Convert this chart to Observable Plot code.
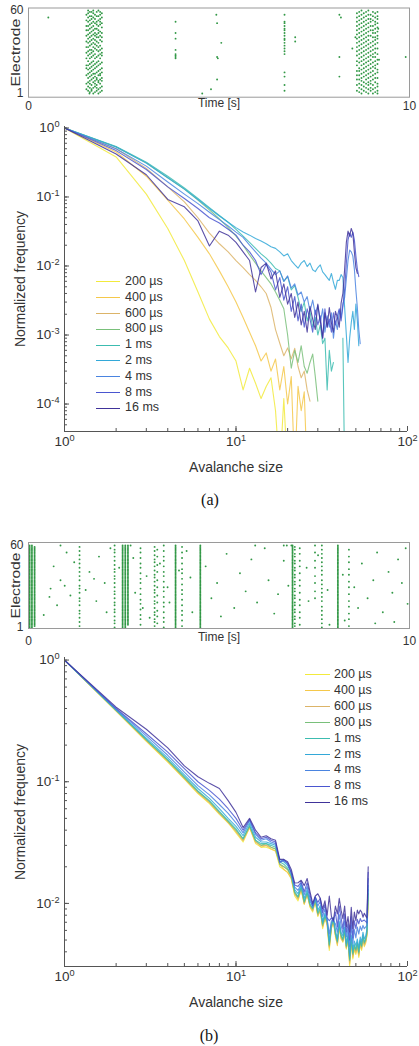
<!DOCTYPE html>
<html><head><meta charset="utf-8">
<script src="https://cdn.jsdelivr.net/npm/d3@7"></script>
<script src="https://cdn.jsdelivr.net/npm/@observablehq/plot@0.6"></script>
<style>
html,body{margin:0;padding:0;background:#fff;}
#root{position:relative;width:419px;height:1046px;overflow:hidden;background:#fff;font-family:"Liberation Sans",Arial,sans-serif;color:#333;}
.panel{position:absolute;left:0;}
.legtxt{position:absolute;font-size:12.5px;line-height:13px;white-space:nowrap;color:#333;}
.legln{position:absolute;height:0;border-top:1.3px solid;}
.cap{position:absolute;font-family:"Liberation Serif","Times New Roman",serif;font-size:16px;color:#111;transform:translate(-50%,-50%);}
</style></head><body><div id="root"></div>
<script>
// ---------- series labels & colours ----------
const seriesLabels = ["200 µs","400 µs","600 µs","800 µs","1 ms","2 ms","4 ms","8 ms","16 ms"];
const seriesColors = ["#f2ea3c","#f5c84a","#dcb468","#79c07a","#3cbcb0","#33a8d8","#4a84e0","#4a56d0","#40339a"];

// ---------- panel (a): normalized frequency vs avalanche size (size = index+1) ----------
const a200 = [1,0.38,0.11,0.035,0.012,0.0042,0.0017,0.00095,0.00065,0.00042,0.00016,0.00033,0.0002,0.00012,0.00018,0.00024,0.00008,0.00001,0.00012,0.00001];
const a400 = [1,0.45,0.2,0.09,0.048,0.026,0.015,0.0085,0.005,0.003,0.0018,0.0011,0.0007,0.00042,0.00055,0.0003,0.00045,0.00016,0.00035,0.0001,0.00025,0.00001,0.00018,0.00008,0.00015,0.00001];
const a600 = [1,0.5,0.26,0.14,0.085,0.05,0.03,0.021,0.016,0.012,0.0095,0.0075,0.0062,0.005,0.004,0.0025,0.0012,0.00076,0.0005,0.00065,0.00045,0.00064,0.00035,0.00024,0.0003,0.00016,0.00011];
const a800 = [1,0.53,0.31,0.19,0.13,0.09,0.065,0.048,0.036,0.027,0.02,0.0145,0.011,0.0085,0.0068,0.0055,0.0042,0.0032,0.0024,0.001,0.00033,0.0006,0.0004,0.0007,0.00035,0.00028,0.0004,0.00053,0.00025,0.00011];
const a1ms = [1,0.54,0.32,0.2,0.135,0.095,0.07,0.054,0.043,0.034,0.027,0.022,0.018,0.015,0.013,0.011,0.0092,0.0085,0.006,0.007,0.0045,0.0052,0.0035,0.0022,0.003,0.0016,0.0022,0.0013,0.0018,0.001,0.0014,0.00075,0.0009,0.00016,0.0006,0.0003,0.0004,null,null,null,null,0.0009,0.00001];
const a2ms = [1,0.53,0.31,0.19,0.13,0.092,0.068,0.053,0.043,0.036,0.031,0.028,0.025,0.023,0.021,0.019,0.018,0.016,0.014,0.015,0.012,0.0105,0.0093,0.011,0.012,0.0098,0.011,0.0088,0.0083,0.0095,0.0104,0.0082,0.0075,0.0068,0.0062,0.0078,0.0058,0.0046,0.0062,0.0062,0.0075,0.0068,0.0025,0.001,0.0004,0.0009,0.0015,0.0022,0.0012,0.0028,0.0016,0.0007];
const a4ms = [1,0.5,0.28,0.165,0.11,0.08,0.06,0.047,0.038,0.031,0.026,0.02,0.016,0.013,0.011,0.009,0.0075,0.0085,0.006,0.0072,0.0048,0.0055,0.0038,0.0042,0.003,0.0036,0.0022,0.0032,0.002,0.0027,0.0015,0.0024,0.0011,0.0019,0.0013,0.0021,0.0009,0.0016,0.0012,0.0023,0.0018,0.0028,0.0035,0.0065,0.012,0.017,0.016,0.014,0.009,0.0045,0.0025,0.0012,0.00075];
const a8ms = [1,0.47,0.25,0.14,0.095,0.068,0.05,0.042,0.034,0.028,0.02,0.016,0.012,0.0075,0.0105,0.0082,0.0045,0.0068,0.0032,0.005,0.0022,0.0036,0.0016,0.0028,0.0013,0.0024,0.0017,0.0011,0.0023,0.0014,0.0019,0.0009,0.0024,0.0013,0.0017,0.0011,0.0021,0.0014,0.0019,0.0024,0.0016,0.0026,0.0045,0.011,0.024,0.03,0.026,0.031,0.024,0.014,0.009,0.007];
const a16ms = [1,0.42,0.21,0.092,0.072,0.045,0.0195,0.032,0.028,0.022,0.016,0.012,0.0042,0.0095,0.011,0.0065,0.0085,0.0035,0.0055,0.0028,0.004,0.0018,0.003,0.0014,0.0022,0.0011,0.0026,0.0017,0.0012,0.0028,0.0016,0.0009,0.0021,0.0013,0.0025,0.0015,0.0011,0.0022,0.0018,0.0013,0.0029,0.004,0.009,0.022,0.032,0.027,0.035,0.03,0.016,0.0095,0.0078];

// ---------- panel (b) ----------
const b200 = [1,0.38,0.215,0.145,0.105,0.08,0.066,0.054,0.046,0.038,0.032,0.042,0.031,0.029,0.029,0.028,0.027,0.02,0.019,0.018,0.016,0.0115,0.0105,0.013,0.0098,0.012,0.0093,0.0085,0.0105,0.0078,0.0088,0.0062,0.0075,0.0068,0.0041,0.0062,0.0072,0.0053,0.0046,0.0063,0.0052,0.0048,0.0058,0.0042,0.0051,0.003,0.0049,0.0035,0.0042,0.0038,0.0045,0.0036,0.0047,0.0041,0.0052,0.0044,0.0048,0.0055,0.011];
const b400 = [1,0.382,0.217,0.147,0.106,0.081,0.067,0.055,0.046,0.039,0.033,0.042,0.032,0.029,0.03,0.028,0.027,0.021,0.019,0.018,0.016,0.012,0.0108,0.013,0.0099,0.0118,0.0095,0.0087,0.0104,0.008,0.0087,0.0064,0.0076,0.0066,0.0043,0.0063,0.007,0.0055,0.0045,0.0064,0.0051,0.0049,0.0057,0.0043,0.005,0.0032,0.0048,0.0036,0.0043,0.0039,0.0044,0.0037,0.0046,0.0042,0.005,0.0045,0.0047,0.0054,0.012];
const b600 = [1,0.384,0.219,0.149,0.107,0.082,0.068,0.055,0.047,0.039,0.033,0.043,0.032,0.03,0.03,0.029,0.028,0.021,0.02,0.019,0.0165,0.012,0.011,0.0133,0.01,0.012,0.0096,0.0088,0.0106,0.008,0.0089,0.0065,0.0077,0.0069,0.0044,0.0064,0.0072,0.0055,0.0047,0.0065,0.0053,0.0049,0.0059,0.0043,0.0052,0.0033,0.005,0.0037,0.0044,0.004,0.0046,0.0038,0.0048,0.0043,0.0053,0.0046,0.0049,0.0056,0.012];
const b800 = [1,0.386,0.221,0.15,0.108,0.083,0.069,0.056,0.047,0.04,0.034,0.043,0.033,0.03,0.031,0.029,0.028,0.021,0.02,0.019,0.0168,0.0122,0.0112,0.0135,0.0102,0.0122,0.0097,0.009,0.0107,0.0082,0.009,0.0066,0.0078,0.007,0.0045,0.0065,0.0073,0.0056,0.0048,0.0066,0.0054,0.005,0.006,0.0044,0.0053,0.0034,0.0051,0.0038,0.0045,0.0041,0.0047,0.0039,0.0049,0.0044,0.0054,0.0047,0.005,0.0057,0.012];
const b1ms = [1,0.388,0.223,0.152,0.11,0.084,0.07,0.057,0.048,0.041,0.034,0.044,0.033,0.031,0.031,0.03,0.029,0.022,0.021,0.0195,0.017,0.0125,0.0114,0.0137,0.0104,0.0124,0.0099,0.0091,0.0109,0.0084,0.0092,0.0068,0.008,0.0071,0.0046,0.0066,0.0074,0.0057,0.0049,0.0068,0.0055,0.0051,0.0061,0.0045,0.0054,0.0035,0.0052,0.0039,0.0046,0.0042,0.0048,0.004,0.005,0.0045,0.0055,0.0048,0.0051,0.0058,0.013];
const b2ms = [1,0.39,0.228,0.157,0.114,0.088,0.073,0.06,0.05,0.043,0.036,0.046,0.035,0.032,0.032,0.031,0.03,0.023,0.022,0.0205,0.018,0.013,0.012,0.0143,0.011,0.013,0.0104,0.0095,0.0113,0.0088,0.0096,0.0071,0.0083,0.0074,0.0049,0.0069,0.0077,0.006,0.0051,0.0071,0.0058,0.0054,0.0064,0.0047,0.0057,0.0037,0.0055,0.0042,0.0049,0.0045,0.0051,0.0043,0.0053,0.0048,0.0058,0.0051,0.0054,0.0061,0.014];
const b4ms = [1,0.395,0.238,0.165,0.12,0.093,0.078,0.065,0.055,0.046,0.038,0.048,0.037,0.033,0.034,0.032,0.031,0.0215,0.023,0.021,0.0178,0.0136,0.0128,0.0146,0.0118,0.0138,0.011,0.0093,0.0112,0.0095,0.0104,0.0078,0.009,0.0074,0.0056,0.0072,0.0072,0.0068,0.0058,0.0081,0.0066,0.0057,0.0072,0.0053,0.0062,0.0044,0.0066,0.0047,0.0061,0.0052,0.0064,0.0056,0.0065,0.006,0.0066,0.0062,0.0064,0.0066,0.016];
const b8ms = [1,0.4,0.248,0.175,0.128,0.1,0.085,0.072,0.06,0.05,0.04,0.049,0.038,0.034,0.035,0.033,0.032,0.022,0.0225,0.0215,0.0178,0.0142,0.0138,0.015,0.0125,0.0148,0.0118,0.0096,0.0113,0.0102,0.011,0.0084,0.0098,0.0076,0.0072,0.0076,0.0071,0.0085,0.0064,0.0095,0.0076,0.0062,0.0082,0.0058,0.0068,0.005,0.0078,0.0052,0.0072,0.0062,0.0074,0.0068,0.0075,0.0071,0.0072,0.0073,0.0071,0.0069,0.018];
const b16ms = [1,0.41,0.27,0.19,0.135,0.11,0.097,0.088,0.07,0.056,0.042,0.05,0.04,0.035,0.036,0.034,0.033,0.023,0.023,0.022,0.019,0.0147,0.0148,0.0155,0.014,0.016,0.0125,0.01,0.0115,0.012,0.011,0.009,0.0105,0.008,0.0115,0.0078,0.0073,0.0095,0.0082,0.011,0.0088,0.0075,0.0095,0.0064,0.0078,0.0058,0.0093,0.0062,0.0085,0.0072,0.0088,0.0082,0.0088,0.0085,0.0077,0.0083,0.0079,0.0076,0.02];

// ---------- tick values ----------
const sizeTicks = [1, 10, 100];
const freqTicksA = [1, 0.1, 0.01, 0.001, 0.0001];
const freqTicksB = [1, 0.1, 0.01];
const rasterTimeTicks = [0, 10];
const rasterElectrodeTicks = [1, 60];

// ---------- raster (a) ----------
// bursts: per electrode (1..60) list of time bins; time = start + bin*step
const burstA1 = {start: 1.52, step: 0.045, rows: "47 258 1369 037 2468 159 36 0258 147 2579 368 1469 25 0378 1458 269 37 148 0259 36 1470 258 369 147 - 2580 36 1479 258 039 147 2368 59 1470 268 35 147 0269 358 14 2679 0358 146 2579 38 1470 256 39 0147 268 359 1468 027 358 149 2367 058 149 2368 147"};
const burstA2 = {start: 8.62, step: 0.06, rows: "2579 148 0369 257 1468 39 0257 1469 358 26 0147 2589 36 1470 258 369 0147 259 1368 47 0258 369 147 2580 369 14 2578 036 1479 258 036 147 2589 036 147 258 3690 147 258 039 1478 2569 03 1478 259 0367 148 259 0367 148 259 0368 147 2569 038 1479 256 038 1479 25"};
const columnsA_t = [3.86, 6.72];
const columnsA_e = ["26,27,28,29,32,40,44,52", "3,7,13,16,29,31,33,35,37,39,40,42,44,46,47,49,51,52,57"];
const scatterA_t = [0.52,4.93,4.95,5.06,4.95,4.97,4.95,4.79,4.56,7.0,7.0,8.16,8.2,8.5,8.58,8.16,8.16,9.18,9.2,9.9,1.6];
const scatterA_e = [55,57,51,37,27,26,11,4,1,41,38,57,55,33,41,27,13,47,25,27,1];

// ---------- raster (b) ----------
const columnsB_t = [0.03,0.09,0.16,1.34,2.26,2.47,2.54,2.61,2.94,3.31,3.38,3.55,3.86,4.03,4.51,6.93,6.99,7.12,7.52,7.7,8.12,8.41];
const columnsB_e = [
  "1-60","1-60","2-59",
  "2,5,8,11,13,17,20,22,26,29,31,35,38,41,44,47,50,53,56,59",
  "1,4,6,9,12,14,17,19,22,25,27,30,33,36,38,41,43,46,49,52,55,57,60",
  "1-60","1-60","3-60",
  "3,7,10,14,18,21,25,29,33,36,40,44,47,51,55,58",
  "2,5,7,10,12,15,18,20,23,26,28,31,34,37,39,42,45,48,50,53,56,59",
  "4,9,13,19,24,30,35,41,46,52,57",
  "1,5,8,12,16,19,23,27,30,34,38,41,45,49,52,56,60",
  "1-60",
  "2,6,10,13,17,21,25,28,32,36,40,43,47,51,55,59",
  "1-60","1-60",
  "2,4,7,9,12,14,17,19,22,24,27,29,32,34,37,39,42,44,47,49,52,54,57,59",
  "3,8,12,17,21,26,31,35,40,45,49,54,58",
  "22,27,33,38,44,49,55,60",
  "1,4,7,10,13,16,20,23,26,29,32,35,39,42,45,48,51,54,57,60",
  "1-60",
  "2,7,11,16,20,25,30,34,39,43,48,52,57"
];
const scatterB_t = [0.66,0.58,0.55,0.84,0.95,1.1,0.75,0.4,1.2,1.0,1.5,1.6,1.72,1.85,1.78,2.0,2.05,2.15,2.38,2.75,2.8,3.0,3.1,3.18,3.45,3.65,3.7,3.95,4.15,4.25,4.3,4.65,4.8,4.95,5.05,5.2,5.4,5.55,5.7,5.85,6.0,6.2,6.3,6.45,6.55,6.7,6.82,7.3,7.35,7.6,7.85,8.25,8.55,8.65,8.75,8.9,9.05,9.15,9.3,9.45,9.55,9.7,9.8,9.9,9.95,9.6,9.1,8.3,7.9,6.7,6.78,6.9,0.84,2.68,5.95];
const scatterB_e = [45,29,23,35,31,24,17,10,48,55,28,41,36,52,20,33,12,58,44,51,26,15,38,8,47,30,19,42,56,37,12,45,22,33,9,54,15,40,27,50,19,58,35,11,25,49,31,44,20,53,28,39,30,15,47,22,35,55,12,41,26,50,33,58,18,5,4,6,3,60,60,60,60,60,60];

// ---------- helpers ----------
const FONT = '"Liberation Sans", Arial, sans-serif';
const root = document.getElementById("root");

function parseList(str) {
  return str.split(",").flatMap(p => {
    if (p.includes("-")) { const [a, b] = p.split("-").map(Number); return d3.range(a, b + 1); }
    return [Number(p)];
  });
}
function burstSpikes(b) {
  return b.rows.split(" ").flatMap((row, i) =>
    row === "-" ? [] : row.split("").map(d => ({t: b.start + Number(d) * b.step, e: i + 1})));
}
function columnSpikes(ts, es) {
  return ts.flatMap((t, i) => parseList(es[i]).map(e => ({t, e})));
}
function scatterSpikes(ts, es) { return ts.map((t, i) => ({t, e: es[i]})); }

function powLabel(v) { return "10^" + Math.round(Math.log10(v)); }
function superscript(svg) {
  svg.querySelectorAll("text").forEach(t => {
    const m = /^10\^(-?\d+)$/.exec(t.textContent.trim());
    if (!m) return;
    t.textContent = "10";
    const ts = document.createElementNS("http://www.w3.org/2000/svg", "tspan");
    ts.setAttribute("dy", "-0.55em");
    ts.setAttribute("font-size", "0.68em");
    ts.textContent = m[1];
    t.appendChild(ts);
  });
}
function stretchText(svg, str, len) {
  svg.querySelectorAll("text").forEach(t => {
    if (t.textContent.trim() === str) {
      t.setAttribute("textLength", len);
      t.setAttribute("lengthAdjust", "spacingAndGlyphs");
    }
  });
}
function place(node, top) {
  const d = document.createElement("div");
  d.className = "panel"; d.style.top = top + "px";
  d.appendChild(node); root.appendChild(d);
}

function rasterPlot(spikes, o) {
  const svg = Plot.plot({
    width: 419, height: o.height, marginLeft: 28, marginRight: 10, marginTop: o.mt, marginBottom: o.mb,
    style: {fontFamily: FONT, fontSize: "12px", color: "#333", background: "transparent", overflow: "visible"},
    x: {domain: [0, 10]},
    y: {domain: o.yDomain},
    marks: [
      Plot.dot(spikes, {x: "t", y: "e", r: 0.95, fill: "#27923c", fillOpacity: 0.95, stroke: null}),
      Plot.frame({stroke: "#9a9a9a"}),
      Plot.axisX({ticks: rasterTimeTicks, tickSize: 0, tickPadding: o.tickPad, label: null}),
      Plot.axisY({ticks: rasterElectrodeTicks, tickSize: 0, tickPadding: 5, label: null}),
      Plot.text(["Time [s]"], {text: d => d, frameAnchor: "bottom", textAnchor: "middle", dy: o.titleDy, fontSize: 12}),
      Plot.text(["Electrode"], {text: d => d, frameAnchor: "left", textAnchor: "middle", dx: -13, rotate: -90, fontSize: 12.5})
    ]
  });
  stretchText(svg, "Electrode", o.elecLen);
  return svg;
}

function logPlot(series, o) {
  const data = series.flatMap((arr, i) => arr.map((v, j) => ({s: j + 1, v, series: seriesLabels[i]})));
  const fh = o.height - o.mt - o.mb, fw = 419 - 64 - 12;
  const xMinor = d3.scaleLog().domain([1, 100]).ticks();
  const yMinor = d3.scaleLog().domain(o.yDomain).ticks();
  const svg = Plot.plot({
    width: 419, height: o.height, marginLeft: 64, marginRight: 12, marginTop: o.mt, marginBottom: o.mb,
    style: {fontFamily: FONT, fontSize: "13.5px", color: "#333", background: "transparent", overflow: "visible"},
    x: {type: "log", domain: [1, 100]},
    y: {type: "log", domain: o.yDomain},
    color: {domain: seriesLabels, range: seriesColors},
    marks: [
      Plot.line(data, {x: "s", y: "v", z: "series", stroke: "series", strokeWidth: 1.1, strokeOpacity: 0.85, clip: true}),
      Plot.ruleX([1], {stroke: "#555"}),
      Plot.ruleY([o.yDomain[0]], {stroke: "#555"}),
      Plot.tickX(xMinor, {x: d => d, insetTop: fh - 3, stroke: "#555"}),
      Plot.tickX(sizeTicks, {x: d => d, insetTop: fh - 5, stroke: "#555"}),
      Plot.tickY(yMinor, {y: d => d, insetRight: fw - 3, stroke: "#555"}),
      Plot.tickY(o.yTicks, {y: d => d, insetRight: fw - 5, stroke: "#555"}),
      Plot.axisX({ticks: sizeTicks, tickFormat: powLabel, tickSize: 0, tickPadding: 5, label: null}),
      Plot.axisY({ticks: o.yTicks, tickFormat: powLabel, tickSize: 0, tickPadding: 5, label: null}),
      Plot.text(["Avalanche size"], {text: d => d, frameAnchor: "bottom", textAnchor: "middle", dy: 40, fontSize: 14}),
      Plot.text(["Normalized frequency"], {text: d => d, frameAnchor: "left", textAnchor: "middle", dx: -44, rotate: -90, fontSize: 14})
    ]
  });
  superscript(svg);
  return svg;
}

function legend(lineX, lineW, textX, y0, step) {
  seriesLabels.forEach((lab, i) => {
    const y = y0 + i * step;
    const ln = document.createElement("div");
    ln.className = "legln";
    ln.style.left = lineX + "px"; ln.style.width = lineW + "px"; ln.style.top = (y - 0.6) + "px";
    ln.style.borderTopColor = seriesColors[i];
    root.appendChild(ln);
    const tx = document.createElement("div");
    tx.className = "legtxt";
    tx.style.left = textX + "px"; tx.style.top = (y - 7) + "px";
    tx.textContent = lab;
    root.appendChild(tx);
  });
}
function caption(txt, x, y) {
  const c = document.createElement("div");
  c.className = "cap"; c.style.left = x + "px"; c.style.top = y + "px"; c.textContent = txt;
  root.appendChild(c);
}

// ---------- build ----------
const rasterA = [...burstSpikes(burstA1), ...burstSpikes(burstA2), ...columnSpikes(columnsA_t, columnsA_e), ...scatterSpikes(scatterA_t, scatterA_e)];
const rasterB = [...columnSpikes(columnsB_t, columnsB_e), ...scatterSpikes(scatterB_t, scatterB_e)];

place(rasterPlot(rasterA, {height: 115, mt: 7.5, mb: 18.3, yDomain: [-1.63, 61.78], tickPad: 4, titleDy: 10, elecLen: 68}), 0);
place(logPlot([a200, a400, a600, a800, a1ms, a2ms, a4ms, a8ms, a16ms], {height: 400, mt: 21, mb: 74, yDomain: [4e-5, 1.05], yTicks: freqTicksA}), 105);
legend(96, 24, 125, 282, 15.8);
caption("(a)", 210, 500);

place(rasterPlot(rasterB, {height: 120, mt: 12, mb: 22, yDomain: [0.28, 62.16], tickPad: 8, titleDy: 12, elecLen: 66}), 530);
place(logPlot([b200, b400, b600, b800, b1ms, b2ms, b4ms, b8ms, b16ms], {height: 401, mt: 22, mb: 70, yDomain: [0.00303, 1.05], yTicks: freqTicksB}), 635);
legend(305, 25, 334, 675, 15.9);
caption("(b)", 209, 1036);
</script></body></html>
